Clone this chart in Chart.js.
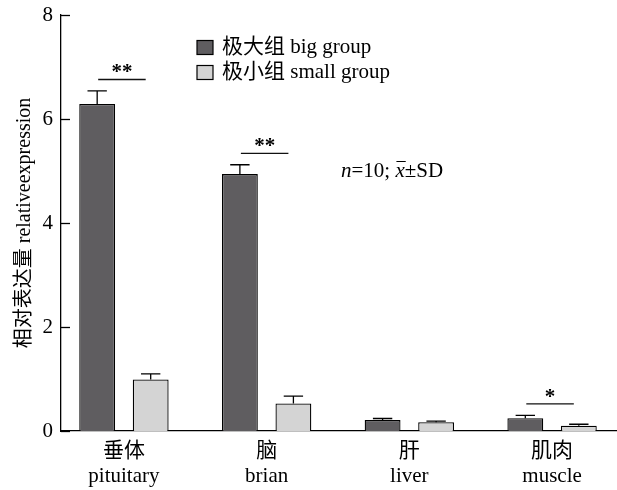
<!DOCTYPE html>
<html>
<head>
<meta charset="utf-8">
<script src="https://cdn.jsdelivr.net/npm/chart.js@4/dist/chart.umd.min.js"></script>
<style>
  html, body { margin: 0; padding: 0; background: #fff; }
  #wrap { width: 617px; height: 490px; }
</style>
</head>
<body>
<div id="wrap"><canvas id="c" width="617" height="490"></canvas></div>
<script>
// Tissues (Chinese / English label lines)
const tissuesZh = ['垂体', '脑', '肝', '肌肉'];
const tissuesEn = ['pituitary', 'brian', 'liver', 'muscle'];

// Relative expression, mean and SD per tissue
const bigMean  = [6.29, 4.94, 0.21, 0.245];
const bigSD    = [0.25, 0.18, 0.03, 0.055];
const smallMean = [0.99, 0.53, 0.17, 0.10];
const smallSD   = [0.11, 0.14, 0.02, 0.03];

// Significance brackets: height of the bar line and the star text
const sigLevel = [6.76, 5.34, null, 0.52];
const sigMarks = ['**', '**', '', '*'];

// Y axis ticks
const yTicks = [0, 2, 4, 6, 8];

const SERIF = '"Liberation Serif", "Noto Sans CJK SC", serif';
const DARK = '#5f5d60';
const LIGHT = '#d4d4d4';

const toPoints = arr => arr.map((v, i) => ({ x: i, y: v }));
const sds = [bigSD, smallSD];

// SD whiskers (upper half only) with caps
const errorBars = {
  id: 'errorBars',
  afterDatasetsDraw(chart) {
    const ctx = chart.ctx, ys = chart.scales.y;
    ctx.save();
    ctx.strokeStyle = '#000';
    ctx.lineWidth = 1.3;
    chart.data.datasets.forEach((ds, di) => {
      const meta = chart.getDatasetMeta(di);
      meta.data.forEach((bar, i) => {
        const v = ds.data[i].y;
        const yTop = ys.getPixelForValue(v + sds[di][i]);
        const yBar = ys.getPixelForValue(v);
        const half = bar.width * 0.27;
        ctx.beginPath();
        ctx.moveTo(bar.x, yBar);
        ctx.lineTo(bar.x, yTop);
        ctx.moveTo(bar.x - half, yTop);
        ctx.lineTo(bar.x + half, yTop);
        ctx.stroke();
      });
    });
    ctx.restore();
  }
};

// Significance lines and stars between the two groups
const significance = {
  id: 'significance',
  afterDatasetsDraw(chart) {
    const ctx = chart.ctx, ys = chart.scales.y;
    const big = chart.getDatasetMeta(0).data;
    const small = chart.getDatasetMeta(1).data;
    ctx.save();
    ctx.strokeStyle = '#111';
    ctx.lineWidth = 1.3;
    ctx.fillStyle = '#000';
    ctx.font = 'bold 21px ' + SERIF;
    ctx.textAlign = 'center';
    ctx.textBaseline = 'alphabetic';
    sigLevel.forEach((lvl, i) => {
      if (lvl === null) return;
      const y = ys.getPixelForValue(lvl);
      const x1 = big[i].x + 1;
      const x2 = small[i].x - 5;
      ctx.beginPath();
      ctx.moveTo(x1, y);
      ctx.lineTo(x2, y);
      ctx.stroke();
      ctx.fillText(sigMarks[i], (x1 + x2) / 2, y - 1);
    });
    ctx.restore();
  }
};

// Inward-pointing tick marks on the value axis
const innerTicks = {
  id: 'innerTicks',
  afterDraw(chart) {
    const ctx = chart.ctx, ys = chart.scales.y;
    const x0 = chart.chartArea.left;
    ctx.save();
    ctx.strokeStyle = '#000';
    ctx.lineWidth = 1.3;
    ys.ticks.forEach(t => {
      const y = Math.round(ys.getPixelForValue(t.value)) + 0.5;
      ctx.beginPath();
      ctx.moveTo(x0, y);
      ctx.lineTo(x0 + 9, y);
      ctx.stroke();
    });
    ctx.restore();
  }
};

// Legend boxes and the n / mean±SD note
const annotations = {
  id: 'annotations',
  afterDraw(chart) {
    const ctx = chart.ctx;
    ctx.save();
    ctx.font = '21px ' + SERIF;
    ctx.textBaseline = 'middle';
    ctx.textAlign = 'left';
    ctx.lineWidth = 1.2;
    ctx.strokeStyle = '#000';
    const rows = [47.5, 72.5];
    chart.data.datasets.forEach((ds, i) => {
      const y = rows[i];
      ctx.fillStyle = ds.backgroundColor;
      ctx.fillRect(197, y - 7, 16, 14);
      ctx.strokeRect(197, y - 7, 16, 14);
      ctx.fillStyle = '#000';
      ctx.fillText(ds.label, 222, y);
    });

    // n=10; x̄±SD
    ctx.textBaseline = 'alphabetic';
    let x = 341;
    const yb = 177;
    const put = (txt, italic) => {
      ctx.font = (italic ? 'italic ' : '') + '21px ' + SERIF;
      ctx.fillText(txt, x, yb);
      const w = ctx.measureText(txt).width;
      x += w;
      return w;
    };
    put('n', true);
    put('=10; ', false);
    const xs = x;
    const wx = put('x', true);
    ctx.beginPath();
    ctx.lineWidth = 1;
    ctx.moveTo(xs + 1, yb - 15.5);
    ctx.lineTo(xs + wx + 1, yb - 15.5);
    ctx.stroke();
    put('±SD', false);
    ctx.restore();
  }
};

const chart = new Chart(document.getElementById('c'), {
  type: 'bar',
  data: {
    datasets: [
      {
        label: '极大组 big group',
        data: toPoints(bigMean),
        backgroundColor: DARK,
        borderColor: '#000',
        borderWidth: 1.3,
        barPercentage: 0.67,
        categoryPercentage: 0.75
      },
      {
        label: '极小组 small group',
        data: toPoints(smallMean),
        backgroundColor: LIGHT,
        borderColor: '#000',
        borderWidth: 1.3,
        barPercentage: 0.67,
        categoryPercentage: 0.75
      }
    ]
  },
  options: {
    responsive: false,
    animation: false,
    devicePixelRatio: 1,
    layout: { padding: { top: 15, right: 0, left: 0, bottom: 0 } },
    plugins: {
      legend: { display: false },
      tooltip: { enabled: false }
    },
    scales: {
      x: {
        type: 'linear',
        offset: false,
        min: -0.441,
        max: 3.455,
        afterBuildTicks: s => { s.ticks = tissuesZh.map((_, i) => ({ value: i })); },
        afterFit: s => { s.height = 59; },
        grid: { display: false, drawTicks: false },
        border: { display: true, color: '#000', width: 1.3 },
        ticks: {
          autoSkip: false,
          maxRotation: 0,
          padding: 8,
          color: '#000',
          font: { family: SERIF, size: 21, lineHeight: 1.2 },
          callback: v => [tissuesZh[v], tissuesEn[v]]
        }
      },
      y: {
        min: 0,
        max: 8,
        afterBuildTicks: s => { s.ticks = yTicks.map(v => ({ value: v })); },
        afterFit: s => { s.width = 61; },
        grid: { display: false, drawTicks: false },
        border: { display: true, color: '#000', width: 1.3 },
        ticks: {
          padding: 8,
          color: '#000',
          font: { family: SERIF, size: 21, lineHeight: 0.6 }
        },
        title: {
          display: true,
          text: '相对表达量 relativeexpression',
          color: '#000',
          font: { family: SERIF, size: 20 },
          padding: { top: 13, bottom: 0 }
        }
      }
    }
  },
  plugins: [errorBars, significance, innerTicks, annotations]
});
</script>
</body>
</html>
